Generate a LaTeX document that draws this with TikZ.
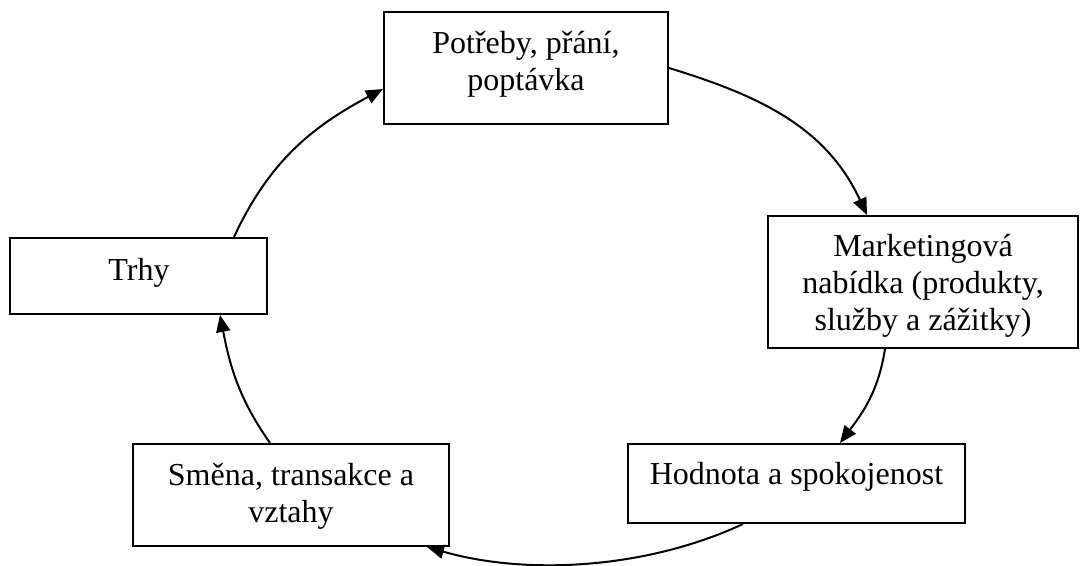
\documentclass[tikz,border=0pt]{standalone}
\usepackage{fontspec}
\setmainfont{Liberation Serif}
\usetikzlibrary{arrows.meta}

\begin{document}
\begin{tikzpicture}[x=0.5pt, y=-0.5pt,
  box/.style={draw, line width=1pt, minimum width=#1, inner sep=0pt},
  lbl/.style={align=center, inner sep=0pt, font=\fontsize{16}{18.5}\selectfont},
  flow/.style={line width=1pt, -{Triangle[length=8.5pt, width=7pt]}}]
  \useasboundingbox (0,0) rectangle (1080,566);

  % boxes of the cycle
  \node[box=142pt, minimum height=56pt] (need)  at (526,68)    {};
  \node[box=155pt, minimum height=66pt] (offer) at (923,282)   {};
  \node[box=168.5pt, minimum height=39.5pt] (value) at (796.5,483.5) {};
  \node[box=158pt, minimum height=51pt] (exch)  at (291,495)   {};
  \node[box=128.5pt, minimum height=38pt] (mkt) at (138.5,276) {};

  % texts inside the boxes
  \node[lbl] (needtxt)  at (526,64.5) {Potřeby, přání,\\poptávka};
  \node[lbl] (offertxt) at (923,286)  {Marketingová\\nabídka (produkty,\\služby a zážitky)};
  \node[lbl] (valuetxt) at (796.5,477) {Hodnota a spokojenost};
  \node[lbl] (exchtxt)  at (291,496)  {Směna, transakce a\\vztahy};
  \node[lbl] (mkttxt)   at (139,273)  {Trhy};

  % curved arrows closing the cycle
  \draw[flow] ([xshift=47.75pt]mkt.north) to[out=65, in=208] ([yshift=-10.5pt]need.west);
  \draw[flow] (need.east) to[out=-17, in=115] ([xshift=-28pt]offer.north);
  \draw[flow] ([xshift=-19pt]offer.south) to[out=-99, in=53] ([xshift=21.75pt]value.north);
  \draw[flow] ([xshift=-26.75pt]value.south) to[out=205, in=-16, looseness=0.85] ([xshift=68pt]exch.south);
  \draw[flow] ([xshift=-10.5pt]exch.north) to[out=125, in=-79] ([xshift=40.75pt]mkt.south);
\end{tikzpicture}
\end{document}
